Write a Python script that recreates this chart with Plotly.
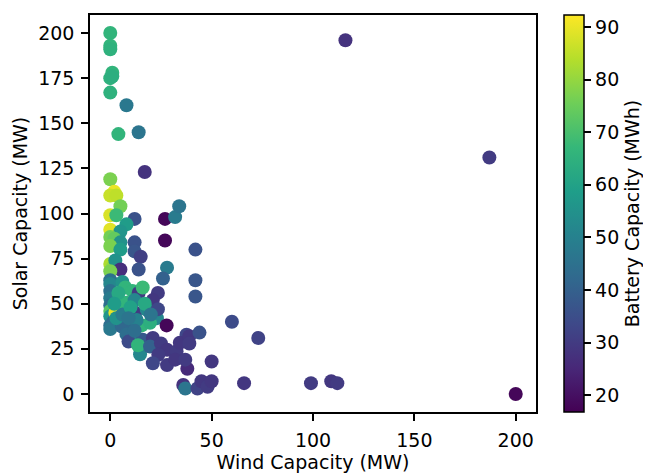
import plotly.graph_objects as go

wind = [0, 0, 0, 1, 0, 1, 0, 8, 4, 14, 17, 0, 2, 0, 3, 5, 0, 3, 12, 27, 32, 34,
        8, 0, 5, 0, 2, 27, 5, 12, 0, 5, 12, 15, 42,
        0, 1, 2.5, 5, 14, 28, 0, 26, 42, 0, 0, 6, 7.4, 11, 14, 23.5, 42, 0, 16, 21,
        0, 0, 0, 0, 1.5, 0, 0, 2.5, 5, 8, 12, 12.3, 18, 23, 23.5, 27.8, 5.7, 11.4,
        15.5, 19.6, 11.4, 16, 21, 8, 9, 14.7, 13.7, 19.6, 25, 28, 32.7, 23.7, 21, 28,
        37.6, 34.3, 39, 39, 44, 60, 73, 50, 38, 32, 37, 3, 6, 10, 13, 17, 20, 4, 2,
        9, 12,
        36, 37, 43, 45, 48, 50, 66, 99, 109, 112, 200, 116, 187]
solar = [200, 193, 191, 178, 175, 176, 167, 160, 144, 145, 123, 119, 112, 110, 110,
         104, 99, 99, 97, 97, 98, 104, 94, 91, 90, 87, 86, 85, 84, 84, 82, 80, 79,
         76, 80,
         72, 70, 74, 69, 69, 70, 68, 64, 63, 63, 61, 62, 59, 57, 56, 56, 54, 57, 59,
         52, 53, 49, 46, 43, 40, 38, 36, 45, 51, 50.5, 52, 45, 46.6, 42, 47, 38, 37.4,
         36.7, 38, 39.4, 31, 30, 31, 33, 29, 22, 27, 26.3, 28, 24.5, 23.6, 21.7, 17,
         16, 32.8, 28.4, 32, 28, 34, 40, 31, 18, 14, 19, 19, 42, 44, 48, 41, 50, 44,
         56, 50, 42, 35,
         5, 3, 3, 7, 4, 7, 6, 6, 7, 6, 0, 196, 131]
battery = [66, 66, 65, 66, 65, 64, 65, 47, 66, 46, 28, 77, 90, 86, 85, 76, 88, 68,
           36, 18, 48, 46, 58, 89, 56, 76, 74, 18, 55, 36, 77, 58, 37, 31, 36,
           83, 80, 55, 27, 36, 48, 77, 40, 37, 45, 52, 55, 66, 66, 30, 30, 37, 45,
           68, 29, 48, 44, 72, 56, 42, 44, 47, 90, 68, 66, 52, 30, 52, 52, 33, 18,
           42, 42, 66, 64, 50, 38, 30, 44, 34, 52, 66, 40, 30, 29, 30, 30, 33, 30,
           33, 29, 29, 30, 36, 34, 32, 29, 26, 29, 30, 55, 48, 60, 50, 62, 46, 62,
           58, 46, 44,
           28, 46, 32, 29, 30, 29, 29, 30, 29, 30, 18, 28, 30]

xticks = [0, 50, 100, 150, 200]
yticks = [0, 25, 50, 75, 100, 125, 150, 175, 200]
cticks = [20, 30, 40, 50, 60, 70, 80, 90]

font = dict(family="DejaVu Sans", size=19, color="black")

fig = go.Figure(go.Scatter(
    x=wind, y=solar, mode="markers",
    marker=dict(
        size=14, color=battery, colorscale="Viridis", cmin=16.8, cmax=92.3,
        line=dict(width=0), opacity=1,
        colorbar=dict(
            title=dict(text="Battery Capacity (MWh)", side="right", font=font),
            tickvals=cticks, ticks="outside", ticklen=7, tickwidth=1.5,
            tickcolor="black",
            tickfont=font, outlinewidth=1.5, outlinecolor="black",
            thickness=20, thicknessmode="pixels", len=1, lenmode="fraction",
            x=1.062, xanchor="left", y=0.5, yanchor="middle", xpad=0, ypad=0,
        ),
    ),
    showlegend=False,
))

axis_common = dict(showline=True, linecolor="black", linewidth=1.5, mirror=True,
                   ticks="outside", ticklen=7, tickwidth=1.5, tickcolor="black",
                   showgrid=False, zeroline=False, tickfont=font, automargin=False,
                   ticklabelstandoff=3)

# page body has an 8px default margin, so the figure is sized to fit the window
fig.update_layout(
    width=643, height=466,
    margin=dict(l=82, r=112, t=7, b=62),
    paper_bgcolor="white", plot_bgcolor="white",
    font=font,
    xaxis=dict(range=[-10, 210], tickvals=xticks,
               title=dict(text="Wind Capacity (MW)", font=font, standoff=2),
               **axis_common),
    yaxis=dict(range=[-10, 210], tickvals=yticks,
               title=dict(text="Solar Capacity (MW)", font=font, standoff=6),
               **axis_common),
)

fig.write_html("out.html")
